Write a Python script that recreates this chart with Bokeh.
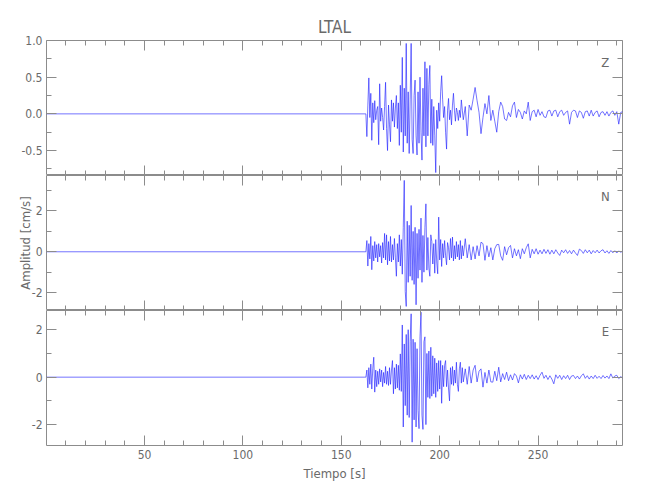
import numpy as np
from bokeh.plotting import figure
from bokeh.models import LinearAxis, FixedTicker, Range1d, Label, PrintfTickFormatter
from bokeh.layouts import column
from bokeh.embed import file_html
from bokeh.resources import INLINE

# ---------------- data ----------------
title_text = "LTAL"
components = ["Z", "N", "E"]
x_label = "Tiempo [s]"
y_label = "Amplitud [cm/s]"

x_ticks = [50, 100, 150, 200, 250]
x_minor = [10, 20, 30, 40, 60, 70, 80, 90, 110, 120, 130, 140, 160, 170, 180, 190,
           210, 220, 230, 240, 260, 270, 280, 290]

# pre-event baseline starts at t0; strong motion sampled every 0.5 s from 162 s,
# coda every 1 s from 213 s
t0 = 0.2
strong_start, strong_dt = 162.0, 0.5
coda_start, coda_dt = 213.0, 1.0

z_strong = [0.00, 0.00, -0.31, 0.12, 0.49, -0.05, 0.28, -0.36, 0.15, -0.12,
            0.18, -0.08, 0.05, 0.10, -0.42, 0.41, -0.10, 0.08, -0.05, -0.22,
            0.10, 0.43, -0.20, -0.50, 0.12, -0.15, -0.38, 0.19, -0.10, 0.15,
            -0.18, 0.08, 0.25, -0.20, 0.15, -0.43, 0.39, -0.25, 0.77, -0.52,
            0.35, -0.30, 0.96, -0.40, 0.30, -0.54, 0.20, 0.96, -0.35, -0.54,
            0.25, 0.46, -0.30, -0.56, 0.30, -0.40, 0.50, -0.25, -0.63, 0.35,
            -0.30, 0.71, -0.45, 0.62, -0.30, 0.40, 0.66, -0.40, 0.20, -0.43,
            0.10, -0.30, -0.80, 0.05, -0.20, 0.15, -0.10, 0.30, 0.52, 0.20,
            -0.05, 0.10, -0.25, -0.48, 0.05, 0.21, -0.08, 0.05, -0.15, 0.12,
            0.28, 0.05, -0.10, 0.08, 0.02, -0.09, 0.05, -0.05, 0.19, 0.05,
            -0.08]
z_coda = [0.10, -0.30, 0.12, 0.05, 0.20, 0.36, 0.18, 0.02, -0.27, -0.05,
          0.14, 0.00, 0.25, -0.09, 0.05, -0.10, -0.25, 0.03, 0.16, 0.10,
          -0.07, -0.09, 0.02, -0.04, 0.11, 0.16, -0.05, 0.06, 0.02, -0.07,
          0.04, 0.00, 0.16, -0.09, 0.03, 0.05, -0.04, 0.06, -0.02, 0.03,
          -0.04, -0.05, 0.04, 0.05, -0.03, 0.04, 0.05, -0.04, 0.03, 0.05,
          -0.02, 0.02, 0.04, -0.14, 0.02, 0.05, 0.04, -0.05, 0.04, 0.02,
          -0.06, 0.03, 0.04, -0.03, 0.05, -0.03, 0.02, 0.04, -0.04, 0.02,
          0.03, -0.02, 0.03, -0.03, 0.02, 0.04, -0.02, 0.03, -0.14, 0.02,
          0.03]

n_strong = [0.00, 0.00, 0.55, -0.70, 0.40, -0.35, 0.75, -0.88, 0.30, -0.45,
            0.50, -0.30, 0.35, -0.50, 0.40, -0.25, 0.30, -0.55, 0.45, -0.30,
            0.90, -0.40, 0.83, -0.64, 0.50, -0.45, 0.75, -0.50, 0.35, -0.40,
            0.65, -0.30, -1.20, 0.40, -0.50, 0.83, -0.70, 0.60, -1.10, 1.20,
            3.50, -1.95, -2.68, 1.50, -1.50, 1.30, -1.20, 2.27, -1.40, 1.00,
            -1.60, 1.20, -2.60, 0.90, -1.30, 1.10, -0.90, 1.65, -1.50, 0.80,
            -1.00, 1.20, 2.35, -0.90, 0.70, -0.80, -1.20, 0.83, 0.50, -0.60,
            0.40, -1.05, 0.60, -0.50, -1.08, 1.70, -0.40, 0.60, -0.72, 0.40,
            -0.30, 0.55, -0.20, -0.64, 0.45, 0.20, -0.40, 0.65, -0.30, 0.72,
            -0.45, 0.30, -0.35, 0.50, -0.25, 0.35, -0.40, 0.55, -0.35, 0.30,
            -0.20]
n_coda = [0.64, -0.30, 0.35, -0.40, 0.25, -0.35, 0.30, -0.20, 0.47, 0.40,
          -0.42, 0.30, -0.25, 0.20, -0.40, 0.15, 0.35, 0.36, -0.20, -0.42,
          0.25, -0.15, 0.20, 0.31, -0.30, 0.15, -0.20, 0.10, -0.34, 0.15,
          -0.10, 0.20, 0.39, -0.30, 0.12, -0.10, 0.15, -0.12, 0.08, -0.10,
          0.12, -0.08, 0.10, -0.12, 0.08, -0.10, 0.10, -0.06, -0.18, 0.08,
          -0.05, 0.10, -0.08, 0.06, -0.10, 0.08, -0.06, -0.18, 0.13, 0.06,
          -0.08, 0.10, -0.05, 0.08, -0.10, 0.06, -0.05, 0.08, -0.06, 0.05,
          0.10, -0.06, 0.05, -0.08, 0.06, -0.05, 0.05, -0.06, 0.04, -0.02,
          0.02]

e_strong = [0.00, 0.00, 0.30, -0.45, 0.40, -0.30, 0.55, -0.50, 0.35, 0.84,
            -0.63, 0.30, -0.40, 0.25, -0.30, 0.35, -0.20, 0.30, -0.40, 0.20,
            -0.25, 0.45, -0.30, 0.25, -0.35, 0.40, -0.30, 0.30, 0.70, -0.70,
            0.40, -0.50, 0.55, -0.45, 0.50, -0.55, 0.98, -0.60, 2.20, -2.10,
            1.40, -1.20, 1.80, -1.60, 2.00, -1.70, 1.50, 2.67, -2.74, 1.60,
            -1.80, 1.47, -2.10, 1.20, -1.40, -2.17, 1.70, 2.74, -1.60, -2.20,
            1.50, 1.70, -2.00, 1.00, -0.85, 1.10, -0.90, 1.26, -0.80, 0.90,
            -0.70, 0.80, -0.85, 0.60, -0.60, 0.70, -0.50, 0.70, -1.10, 0.50,
            -0.40, 0.50, 0.70, -0.40, 0.30, -0.50, -1.00, 0.40, -0.30, 0.45,
            -0.35, 0.30, -0.25, 0.63, -0.30, -0.60, 0.35, 0.63, -0.25, 0.40,
            -0.20]
e_coda = [0.35, -0.30, 0.45, -0.25, 0.30, 0.50, -0.20, 0.25, 0.35, -0.42,
          0.20, -0.25, 0.30, -0.20, -0.21, 0.25, -0.15, 0.42, -0.20, 0.15,
          -0.10, 0.21, -0.15, 0.10, -0.12, 0.15, 0.05, -0.24, 0.10, -0.08,
          0.12, -0.10, 0.08, -0.06, 0.10, -0.08, 0.06, -0.10, 0.08, 0.21,
          -0.05, 0.08, -0.10, 0.06, -0.08, -0.28, 0.10, -0.05, 0.08, -0.10,
          0.06, -0.06, 0.08, -0.10, 0.05, 0.07, -0.06, 0.05, -0.08, 0.06,
          0.14, -0.05, 0.06, -0.08, 0.05, -0.06, 0.08, -0.05, 0.04, -0.06,
          0.07, -0.04, 0.05, -0.06, 0.14, -0.04, 0.05, 0.08, -0.06, 0.02,
          -0.03]

y_ranges = [(-0.84, 1.0), (-2.88, 3.74), (-2.88, 2.81)]
y_ticks = [[-0.5, 0.0, 0.5, 1.0], [-2, 0, 2], [-2, 0, 2]]
y_minor = [[-0.75, -0.25, 0.25, 0.75], [-1, 1, 3], [-1, 1]]
y_formats = ["%.1f", "%d", "%d"]
label_pos = [(284.2, 0.70), (284.2, 2.71), (284.2, 1.92)]

# ---------------- styling ----------------
FONT = "Liberation Sans Narrow, DejaVu Sans Condensed, Liberation Sans, sans-serif"
AXC = "#8c8c8c"
TXC = "#6a6a6a"
TRACE = "#2222ff"


def series(strong, coda):
    ts = strong_start + strong_dt * np.arange(len(strong))
    tc = coda_start + coda_dt * np.arange(len(coda))
    t = np.concatenate([[t0], ts, tc])
    v = np.concatenate([[0.0], strong, coda])
    return t, v


def style_axis(ax, show_labels):
    ax.axis_line_color = None
    ax.major_tick_line_color = AXC
    ax.minor_tick_line_color = AXC
    ax.major_tick_in = 10
    ax.major_tick_out = 0
    ax.minor_tick_in = 5
    ax.minor_tick_out = 0
    ax.major_label_text_font = FONT
    ax.major_label_text_color = TXC
    if show_labels:
        ax.major_label_text_font_size = "12px"
        ax.major_label_standoff = 4
    else:
        ax.major_label_text_font_size = "0px"
        ax.major_label_text_alpha = 0
        ax.major_label_standoff = 0
    ax.axis_label_text_font = FONT
    ax.axis_label_text_color = TXC
    ax.axis_label_text_font_style = "normal"
    ax.axis_label_text_font_size = "13px"


data = [series(z_strong, z_coda), series(n_strong, n_coda), series(e_strong, e_coda)]
figs = []
for i in range(3):
    top = 40 if i == 0 else 0
    p = figure(frame_width=576, frame_height=135,
               x_range=Range1d(0.2, 292.9), y_range=Range1d(*y_ranges[i]),
               output_backend="svg", toolbar_location=None,
               x_axis_location=None, y_axis_location=None,
               min_border_left=46, min_border_right=20,
               min_border_top=top, min_border_bottom=0)
    p.grid.visible = False
    p.outline_line_color = AXC
    p.outline_line_width = 1
    p.background_fill_color = "white"
    p.border_fill_color = "white"

    xt = FixedTicker(ticks=x_ticks, minor_ticks=x_minor)
    yt = FixedTicker(ticks=y_ticks[i], minor_ticks=y_minor[i])

    left = LinearAxis(ticker=yt, formatter=PrintfTickFormatter(format=y_formats[i]))
    style_axis(left, True)
    if i == 1:
        left.axis_label = y_label
        left.axis_label_standoff = -4
    p.add_layout(left, "left")

    right = LinearAxis(ticker=yt)
    style_axis(right, False)
    p.add_layout(right, "right")

    above = LinearAxis(ticker=xt)
    style_axis(above, False)
    p.add_layout(above, "above")

    below = LinearAxis(ticker=xt)
    style_axis(below, i == 2)
    if i == 2:
        below.axis_label = x_label
        below.axis_label_standoff = 4
    p.add_layout(below, "below")

    t, v = data[i]
    p.line(t, v, line_color=TRACE, line_width=0.7, line_alpha=0.9)

    lx, ly = label_pos[i]
    p.add_layout(Label(x=lx, y=ly, text=components[i], text_align="center",
                       text_baseline="middle", text_font=FONT,
                       text_font_size="13px", text_color=TXC))
    if i == 0:
        p.title.text = title_text
        p.title.align = "center"
        p.title.text_font = FONT
        p.title.text_font_size = "17px"
        p.title.text_font_style = "normal"
        p.title.text_color = TXC
        p.title.standoff = 8
    figs.append(p)

layout = column(*figs, spacing=0)
open("out.html", "w").write(file_html(layout, INLINE))
